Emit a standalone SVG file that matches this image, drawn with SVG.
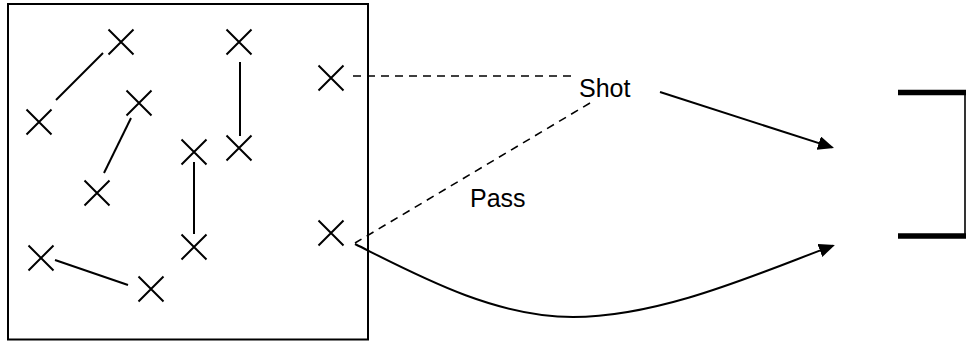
<svg xmlns="http://www.w3.org/2000/svg" xmlns:xlink="http://www.w3.org/1999/xlink" width="966" height="341" viewBox="0 0 966 341">
<style>
.ln{stroke:#000;stroke-width:2;fill:none}
.dash{stroke:#000;stroke-width:1.6;fill:none;stroke-dasharray:8 6}
.lbl{font-family:"Liberation Sans",Arial,sans-serif;font-size:25px;fill:#000}
.bar{stroke:#000;stroke-width:5.5;fill:none}
</style>
<defs>
<path id="xm" d="M-12.5,-12.5 L12.5,12.5 M12.5,-12.5 L-12.5,12.5" stroke="#000" stroke-width="2" fill="none"/>
<marker id="ah" markerUnits="userSpaceOnUse" markerWidth="18" markerHeight="16" refX="14" refY="7" orient="auto" viewBox="0 0 18 16">
<path d="M0,0 L16,7 L0,14 z" fill="#000"/>
</marker>
</defs>
<rect id="pitch" x="8" y="4" width="360" height="335.5" class="ln"/>
<g id="players">
<use id="p1" xlink:href="#xm" x="121" y="42"/>
<use id="p2" xlink:href="#xm" x="39" y="122"/>
<use id="p3" xlink:href="#xm" x="139" y="103"/>
<use id="p4" xlink:href="#xm" x="97" y="193"/>
<use id="p5" xlink:href="#xm" x="239" y="42"/>
<use id="p6" xlink:href="#xm" x="239" y="148"/>
<use id="p7" xlink:href="#xm" x="194" y="152"/>
<use id="p8" xlink:href="#xm" x="194" y="247"/>
<use id="p9" xlink:href="#xm" x="41" y="258"/>
<use id="p10" xlink:href="#xm" x="151" y="289"/>
<use id="p11" xlink:href="#xm" x="331" y="78"/>
<use id="p12" xlink:href="#xm" x="331" y="233"/>
</g>
<g id="goal">
<path class="bar" d="M898,92.5 H966"/>
<path class="bar" d="M898,236 H966"/>
<path d="M965,92 V237" stroke="#000" stroke-width="1.6" fill="none"/>
</g>
<g id="labels">
<text id="shot" class="lbl" x="579" y="97">Shot</text>
<text id="pass" class="lbl" x="470" y="207">Pass</text>
</g>
<g id="connectors">
<path class="ln" d="M103,53 L56,100"/>
<path class="ln" d="M131,118 L104,173"/>
<path class="ln" d="M240,62 L240,136"/>
<path class="ln" d="M194,162 L194,234"/>
<path class="ln" d="M55,260 L128,285"/>
<path class="dash" d="M353,76 H574"/>
<path class="dash" d="M590,103 L355,243"/>
<path class="ln" d="M660,92 L832.1,147.4" marker-end="url(#ah)"/>
<path class="ln" d="M355,244 C415,274 493,317 573,317 C663,317 764,271 833,245.6" marker-end="url(#ah)"/>
</g>
</svg>
